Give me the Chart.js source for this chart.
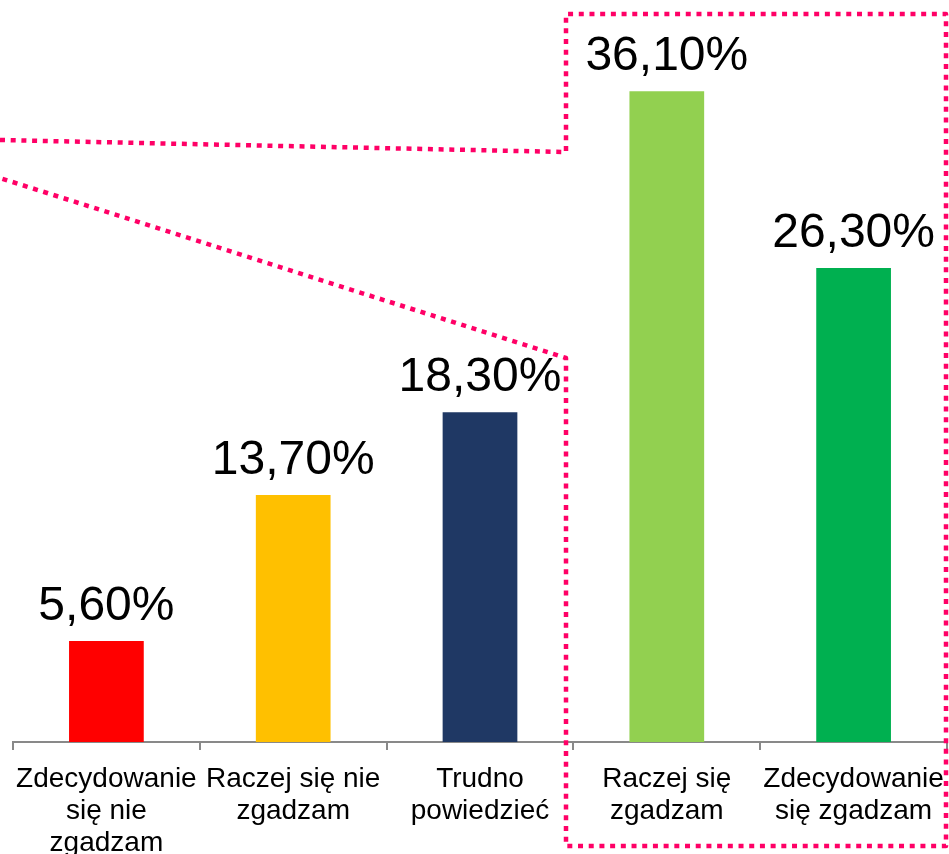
<!DOCTYPE html>
<html>
<head>
<meta charset="utf-8">
<script src="https://cdn.jsdelivr.net/npm/chart.js@4.4.1/dist/chart.umd.min.js"></script>
<style>
  html, body { margin: 0; padding: 0; background: #ffffff; }
  #wrap { width: 949px; height: 854px; }
</style>
</head>
<body>
<div id="wrap"><canvas id="opinionChart" width="949" height="854"></canvas></div>
<script>
// categories (multi-line labels) and values in %
const categories = [
    ["Zdecydowanie", "się nie", "zgadzam"],
    ["Raczej się nie", "zgadzam"],
    ["Trudno", "powiedzieć"],
    ["Raczej się", "zgadzam"],
    ["Zdecydowanie", "się zgadzam"]
];
const values = [5.6, 13.7, 18.3, 36.1, 26.3];
const barColors = ["#FF0000", "#FFC000", "#1F3864", "#92D050", "#00B050"];

const FONT = "Arial, 'Liberation Sans', sans-serif";

// percent labels above the bars, polish decimal comma
const valueLabels = {
    id: "valueLabels",
    afterDatasetsDraw(chart) {
        const ctx = chart.ctx;
        const meta = chart.getDatasetMeta(0);
        ctx.save();
        ctx.font = "48px " + FONT;
        ctx.fillStyle = "#000000";
        ctx.textAlign = "center";
        ctx.textBaseline = "alphabetic";
        meta.data.forEach((bar, i) => {
            const txt = values[i].toFixed(2).replace(".", ",") + "%";
            ctx.fillText(txt, bar.x, bar.y - 21);
        });
        ctx.restore();
    }
};

// pink dotted callout around the "agree" group
const callout = {
    id: "callout",
    afterDraw(chart) {
        const ctx = chart.ctx;
        ctx.save();
        ctx.strokeStyle = "#FF0066";
        ctx.lineWidth = 4.5;
        ctx.setLineDash([5, 5.7]);
        ctx.lineJoin = "round";
        ctx.beginPath();
        ctx.moveTo(0, 140);
        ctx.lineTo(566, 152);
        ctx.lineTo(566, 14);
        ctx.lineTo(946, 14);
        ctx.lineTo(946, 846);
        ctx.lineTo(566, 846);
        ctx.lineTo(566, 358);
        ctx.lineTo(0, 178);
        ctx.stroke();
        ctx.restore();
    }
};

new Chart(document.getElementById("opinionChart"), {
    type: "bar",
    data: {
        labels: categories,
        datasets: [{
            data: values,
            backgroundColor: barColors,
            barPercentage: 0.4,
            categoryPercentage: 1.0
        }]
    },
    options: {
        responsive: false,
        animation: false,
        layout: { padding: { top: 21, left: 13, right: 2, bottom: 0 } },
        plugins: {
            legend: { display: false },
            tooltip: { enabled: false }
        },
        scales: {
            x: {
                afterFit: (scale) => {
                    scale.height = 112;
                    scale.paddingLeft = 0;
                    scale.paddingRight = 0;
                },
                border: { display: true, color: "#898989", width: 2 },
                grid: {
                    display: true,
                    offset: true,
                    drawOnChartArea: false,
                    drawTicks: true,
                    tickLength: 8,
                    tickColor: "#898989",
                    lineWidth: 2
                },
                ticks: {
                    color: "#000000",
                    font: { family: FONT, size: 28, lineHeight: 1.143 },
                    padding: 13,
                    maxRotation: 0,
                    autoSkip: false
                }
            },
            y: {
                display: false,
                min: 0,
                max: 40
            }
        }
    },
    plugins: [valueLabels, callout]
});
</script>
</body>
</html>
